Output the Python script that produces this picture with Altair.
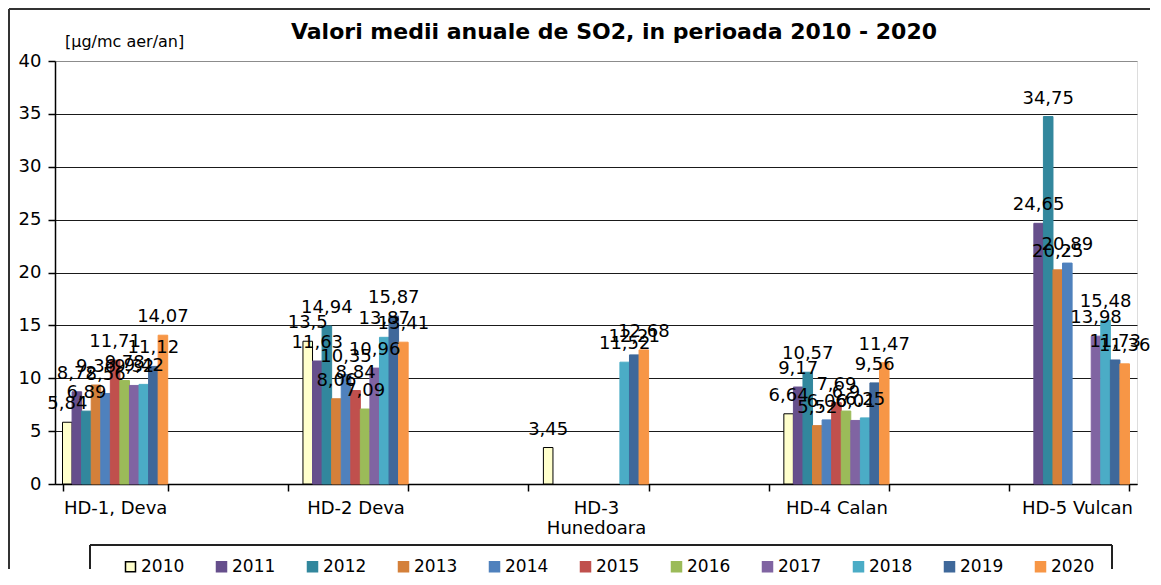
import altair as alt
import pandas as pd

# ---------------- data ----------------
years = ["2010", "2011", "2012", "2013", "2014", "2015", "2016", "2017", "2018", "2019", "2020"]
sites = ["HD-1, Deva", "HD-2 Deva", "HD-3 Hunedoara", "HD-4 Calan", "HD-5 Vulcan"]
# axis slots: every second category slot of the original chart is empty
axis_slots = ["HD-1, Deva", "gap1", "HD-2 Deva", "gap2", "HD-3 Hunedoara", "gap3",
              "HD-4 Calan", "gap4", "HD-5 Vulcan"]

hd1_deva = [5.84, 8.72, 6.89, 9.36, 8.56, 11.71, 9.78, 9.32, 9.42, 11.12, 14.07]
hd2_deva = [13.5, 11.63, 14.94, 8.06, 10.35, 8.84, 7.09, 10.96, 13.87, 15.87, 13.41]
hd3_hunedoara = [3.45, None, None, None, None, None, None, None, 11.52, 12.21, 12.68]
hd4_calan = [6.64, 9.17, 10.57, 5.52, 6.06, 7.69, 6.90, 6.01, 6.25, 9.56, 11.47]
hd5_vulcan = [None, 24.65, 34.75, 20.25, 20.89, None, None, 13.98, 15.48, 11.73, 11.36]

series = [hd1_deva, hd2_deva, hd3_hunedoara, hd4_calan, hd5_vulcan]

year_colors = ["#FFFFCC", "#664F8C", "#32879D", "#D4803A", "#4F81BD", "#C0504D",
               "#9BBB59", "#8064A2", "#4BACC6", "#3F689A", "#F79646"]
year_strokes = ["#000000"] + year_colors[1:]

title_text = "Valori medii anuale de SO2, in perioada 2010 - 2020"
unit_text = "[µg/mc aer/an]"

rows = []
for site, vals in zip(sites, series):
    for yr, v in zip(years, vals):
        if v is not None:
            rows.append({"site": site, "year": yr, "value": v})
df = pd.DataFrame(rows)

FONT = "DejaVu Sans"
W, H = 1082, 423

# ---------------- scales / encodings ----------------
x_enc = alt.X(
    "site:N",
    scale=alt.Scale(domain=axis_slots, paddingInner=0.125, paddingOuter=0.0625),
    axis=alt.Axis(
        title=None,
        labelAngle=0,
        labelFont=FONT,
        labelFontSize=18,
        labelColor="black",
        labelPadding=8,
        labelLineHeight=20,
        labelOverlap=False,
        labelLimit=300,
        labelBaseline="top",
        labelExpr="indexof(datum.label, 'gap') == 0 ? '' : (datum.label == 'HD-3 Hunedoara' ? ['HD-3', 'Hunedoara'] : datum.label)",
        tickBand="extent",
        tickSize=7,
        tickColor="black",
        tickWidth=1.5,
        domainColor="black",
        domainWidth=1.5,
        grid=False,
    ),
)
xoff_enc = alt.XOffset("year:N", scale=alt.Scale(domain=years, paddingInner=0, paddingOuter=0))
y_enc = alt.Y(
    "value:Q",
    scale=alt.Scale(domain=[0, 40], nice=False, zero=True),
    axis=alt.Axis(
        title=None,
        values=list(range(0, 45, 5)),
        labelFont=FONT,
        labelFontSize=18,
        labelColor="black",
        labelPadding=7,
        tickSize=7,
        tickColor="black",
        tickWidth=1.5,
        domainColor="black",
        domainWidth=1.5,
        grid=True,
        gridColor=alt.condition("datum.value == 40", alt.value("#8c8c8c"), alt.value("#1a1a1a")),
        gridWidth=1.2,
    ),
)

legend = alt.Legend(
    title=None,
    orient="none",
    legendX=67,
    legendY=497,
    direction="horizontal",
    columns=11,
    symbolType="square",
    symbolSize=100,
    symbolStrokeWidth=1.5,
    labelFont=FONT,
    labelFontSize=17,
    labelColor="black",
    labelOffset=2,
    columnPadding=28,
    padding=0,
)

bars = alt.Chart(df).mark_bar(strokeWidth=1).encode(
    x=x_enc,
    xOffset=xoff_enc,
    y=y_enc,
    fill=alt.Fill("year:N", scale=alt.Scale(domain=years, range=year_colors), legend=legend),
    stroke=alt.Stroke("year:N", scale=alt.Scale(domain=years, range=year_strokes), legend=legend),
)

labels = alt.Chart(df).transform_calculate(
    label="replace(format(datum.value, '.2~f'), '.', ',')"
).mark_text(
    font=FONT, fontSize=18, color="black", baseline="alphabetic", align="center", dy=-13
).encode(
    x=alt.X("site:N"),
    xOffset=alt.XOffset("year:N"),
    y=alt.Y("value:Q"),
    text="label:N",
)

one = pd.DataFrame({"t": [title_text]})
title = alt.Chart(one).mark_text(
    font=FONT, fontSize=22, fontWeight="bold", color="black", align="center", baseline="middle"
).encode(text="t:N", x=alt.value(559), y=alt.value(-29))

unit = alt.Chart(pd.DataFrame({"t": [unit_text]})).mark_text(
    font=FONT, fontSize=16, color="black", align="left", baseline="middle"
).encode(text="t:N", x=alt.value(10), y=alt.value(-19))

frame_src = pd.DataFrame({"k": [0]})
frame_top = alt.Chart(frame_src).mark_rule(color="#333333", strokeWidth=2).encode(
    x=alt.value(-46), x2=alt.value(1095), y=alt.value(-52))
frame_left = alt.Chart(frame_src).mark_rule(color="#333333", strokeWidth=2).encode(
    x=alt.value(-46), y=alt.value(-52), y2=alt.value(508))

leg_top = alt.Chart(frame_src).mark_rule(color="#222222", strokeWidth=2).encode(
    x=alt.value(35), x2=alt.value(1057), y=alt.value(484))
leg_left = alt.Chart(frame_src).mark_rule(color="#222222", strokeWidth=2).encode(
    x=alt.value(35), y=alt.value(484), y2=alt.value(508))
leg_right = alt.Chart(frame_src).mark_rule(color="#222222", strokeWidth=2).encode(
    x=alt.value(1057), y=alt.value(484), y2=alt.value(508))

chart = alt.layer(
    bars, labels, title, unit, frame_top, frame_left, leg_top, leg_left, leg_right
).properties(
    width=W, height=H, padding=0, background="white"
).configure_view(
    fill="#FFCC99", stroke="#8c8c8c", strokeWidth=1.5
).configure(
    font=FONT
)

chart.save("out.html", embed_options={"renderer": "svg", "actions": False})
